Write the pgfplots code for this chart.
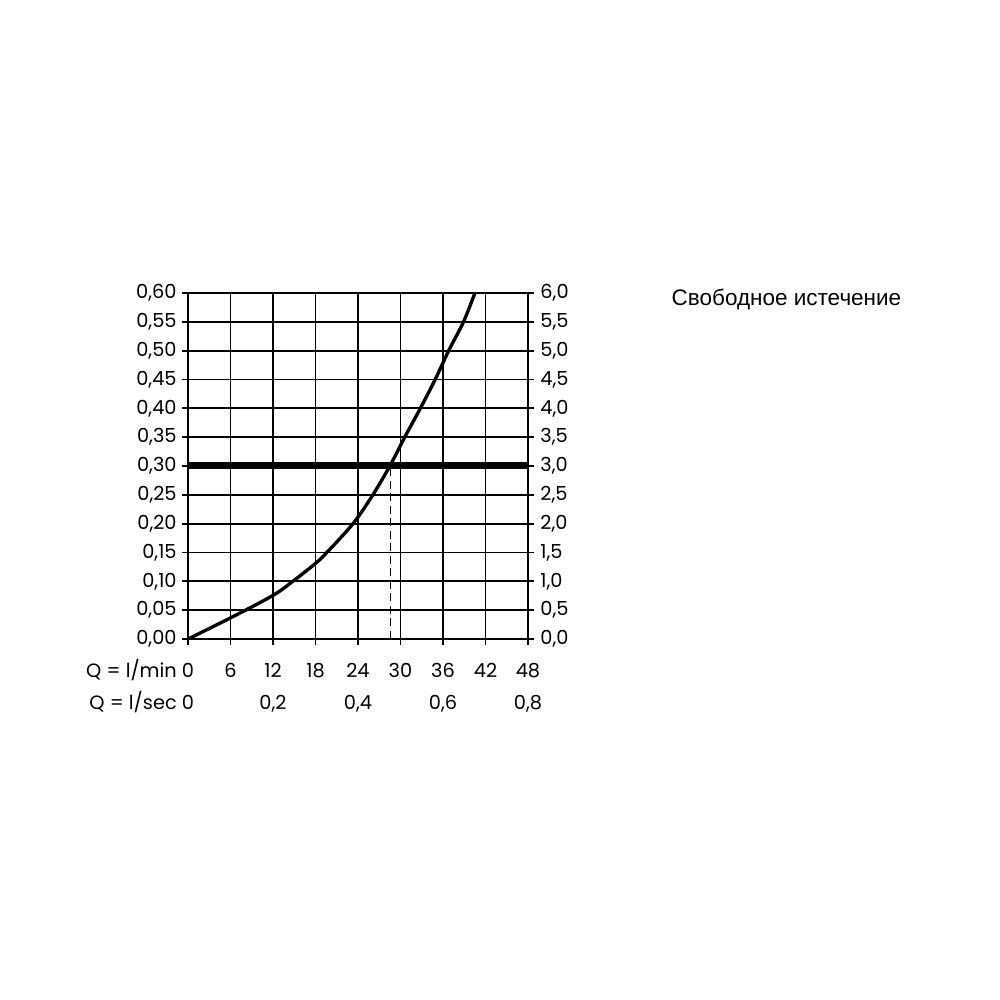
\documentclass[border=0pt]{standalone}
\usepackage{pgfplots}
\pgfplotsset{compat=1.18}
\usepackage{fontspec}
\setmainfont{Poppins}
\newfontfamily\arialfont{Liberation Sans}
\newcommand{\ticksize}{\fontsize{5.5}{6.5}\selectfont}

\begin{document}
\begin{tikzpicture}
\useasboundingbox[fill=white] (0,0) rectangle (10cm,10cm);

% pressure (MPa) against flow (l/min)
\begin{axis}[
  at={(1.88cm,3.61cm)}, anchor=south west,
  scale only axis, width=3.40cm, height=3.46cm,
  xmin=0, xmax=48, ymin=0, ymax=0.6,
  xtick={0,6,12,18,24,30,36,42,48},
  xticklabels={\llap{Q = l/min\ }0,6,12,18,24,30,36,42,48},
  ytick={0,0.05,0.1,0.15,0.2,0.25,0.3,0.35,0.4,0.45,0.5,0.55,0.6},
  xtick pos=bottom, ytick pos=left,
  tick align=outside, major tick length=0.06cm,
  grid=major,
  grid style={black, line width=0.55pt},
  axis line style={black, line width=0.7pt},
  tick style={black, line width=0.55pt},
  ticklabel style={font=\ticksize},
  /pgf/number format/assume math mode=true,
  yticklabel style={xshift=0.07cm, /pgf/number format/.cd, fixed, fixed zerofill, precision=2, use comma},
  xticklabel style={text height=1.4mm, text depth=0pt, yshift=-0.06cm},
  extra x ticks={0,12,24,36,48},
  extra x tick labels={\llap{Q = l/sec\ }0,{0,2},{0,4},{0,6},{0,8}},
  extra x tick style={grid=none, major tick length=0pt, xticklabel style={yshift=-0.38cm}},
]
\addplot[black, line width=0.95pt, smooth] coordinates {
  (0,0) (6,0.0366) (12,0.0756) (14.8,0.10) (18,0.131) (19.6,0.15)
  (23.3,0.20) (26.1,0.25) (28.5,0.30) (30.6,0.35) (32.8,0.40)
  (34.9,0.45) (36.8,0.50) (38.9,0.55) (40.5,0.60)};
\addplot[black, line width=2pt] coordinates {(0,0.3) (48,0.3)};
\addplot[black, line width=0.45pt, dash pattern=on 0.08cm off 0.045cm] coordinates {(28.6,0) (28.6,0.3)};
\node[rotate=90, font=\ticksize] at ([xshift=-0.74cm]axis description cs:0,0.5) {MPa};
\end{axis}

% same chart in bar
\begin{axis}[
  at={(1.88cm,3.61cm)}, anchor=south west,
  scale only axis, width=3.40cm, height=3.46cm,
  xmin=0, xmax=48, ymin=0, ymax=6,
  axis x line=none, axis y line*=right,
  ytick={0,0.5,1,1.5,2,2.5,3,3.5,4,4.5,5,5.5,6},
  tick align=outside, major tick length=0.06cm,
  axis line style={black, line width=0.7pt},
  tick style={black, line width=0.55pt},
  ticklabel style={font=\ticksize},
  /pgf/number format/assume math mode=true,
  yticklabel style={xshift=-0.06cm, /pgf/number format/.cd, fixed, fixed zerofill, precision=1, use comma},
]
\node[rotate=90, font=\ticksize] at ([xshift=0.56cm]axis description cs:1,0.5) {bar};
\end{axis}

\node[anchor=west, inner sep=0pt, font=\arialfont\fontsize{6.4}{7.7}\selectfont] at (6.71cm,7.0cm) {Свободное истечение};
\end{tikzpicture}
\end{document}
